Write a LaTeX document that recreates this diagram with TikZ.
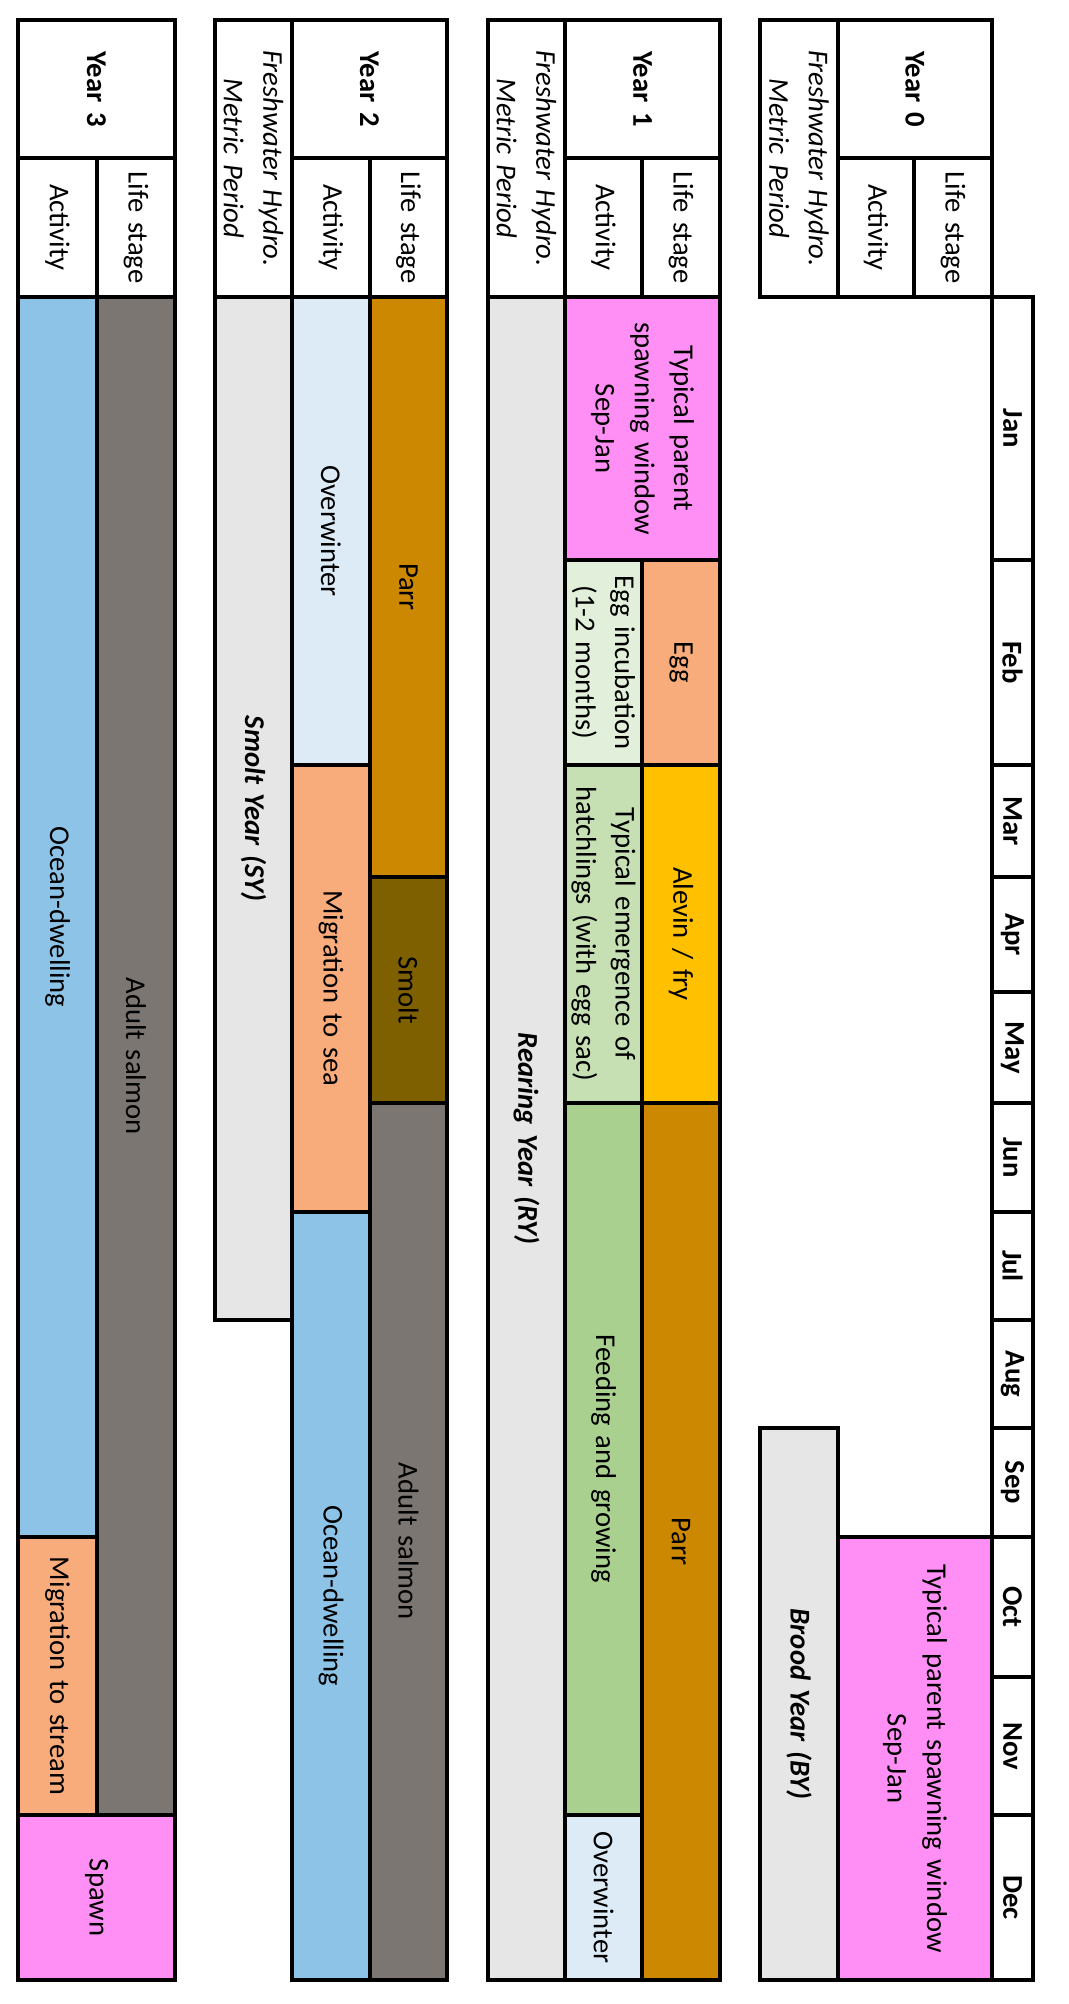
\documentclass[tikz,border=0pt]{standalone}
\usepackage{fontspec}
\setmainfont{Carlito}
\definecolor{pk}{HTML}{FF8FF5}
\definecolor{gr}{HTML}{E7E6E6}
\definecolor{org}{HTML}{F9AC7B}
\definecolor{yel}{HTML}{FFC000}
\definecolor{parr}{HTML}{CC8800}
\definecolor{smolt}{HTML}{7F6000}
\definecolor{adult}{HTML}{7B7671}
\definecolor{ocean}{HTML}{8DC3E6}
\definecolor{winter}{HTML}{DDEBF7}
\definecolor{incub}{HTML}{E2EFDA}
\definecolor{emerg}{HTML}{C6E0B4}
\definecolor{feed}{HTML}{A9D08E}
\tikzset{
  cellbox/.style={draw=black, line width=2.4pt},
  lbl/.style={rotate=-90, align=center, inner sep=0pt, text=black}
}
% name, x1, y1, x2, y2, fill, font switch, text
\newcommand\bx[8]{%
  \path[cellbox, fill=#6] (#2,#3) rectangle (#4,#5);
  \pgfmathsetmacro\tw{abs(#5-#3)*0.75-6}%
  \node[lbl, text width=\tw pt, font=\fontsize{21.5}{29.5}\selectfont#7] (#1) at ({(#2+#4)/2},{(#3+#5)/2}) {#8};}
\begin{document}
\begin{tikzpicture}[x=0.75pt,y=-0.75pt]
\useasboundingbox (0,0) rectangle (1068,2004);
\fill[white] (0,0) rectangle (1068,2004);
% ---- Year 0
\bx{yzfw}{760}{20}{838}{297}{white}{\itshape}{Freshwater Hydro.\\Metric Period}
\bx{yz}{838}{20}{992}{158}{white}{\bfseries}{Year 0}
\bx{yzact}{838}{158}{914}{297}{white}{}{Activity}
\bx{yzls}{914}{158}{992}{297}{white}{}{Life stage}
\bx{yzby}{760}{1428}{838}{1980}{gr}{\bfseries\itshape}{Brood Year (BY)}
\bx{yzsp}{838}{1537}{992}{1980}{pk}{}{Typical parent spawning window\\Sep-Jan}
% ---- Months
\bx{mjan}{992}{297}{1033}{560}{white}{\bfseries}{Jan}
\bx{mfeb}{992}{560}{1033}{765}{white}{\bfseries}{Feb}
\bx{mmar}{992}{765}{1033}{877}{white}{\bfseries}{Mar}
\bx{mapr}{992}{877}{1033}{992}{white}{\bfseries}{Apr}
\bx{mmay}{992}{992}{1033}{1103}{white}{\bfseries}{May}
\bx{mjun}{992}{1103}{1033}{1212}{white}{\bfseries}{Jun}
\bx{mjul}{992}{1212}{1033}{1320}{white}{\bfseries}{Jul}
\bx{maug}{992}{1320}{1033}{1428}{white}{\bfseries}{Aug}
\bx{msep}{992}{1428}{1033}{1537}{white}{\bfseries}{Sep}
\bx{moct}{992}{1537}{1033}{1677}{white}{\bfseries}{Oct}
\bx{mnov}{992}{1677}{1033}{1815}{white}{\bfseries}{Nov}
\bx{mdec}{992}{1815}{1033}{1980}{white}{\bfseries}{Dec}
% ---- Year 1
\bx{yafw}{488}{20}{565}{297}{white}{\itshape}{Freshwater Hydro.\\Metric Period}
\bx{ya}{565}{20}{720}{158}{white}{\bfseries}{Year 1}
\bx{yaact}{565}{158}{642}{297}{white}{}{Activity}
\bx{yals}{642}{158}{720}{297}{white}{}{Life stage}
\bx{yary}{488}{297}{565}{1980}{gr}{\bfseries\itshape}{Rearing Year (RY)}
\bx{yasp}{565}{297}{720}{560}{pk}{}{Typical parent\\spawning window\\Sep-Jan}
\bx{yaegg}{642}{560}{720}{765}{org}{}{Egg}
\bx{yainc}{565}{560}{642}{765}{incub}{}{Egg incubation\\(1-2 months)}
\bx{yaalv}{642}{765}{720}{1103}{yel}{}{Alevin / fry}
\bx{yaem}{565}{765}{642}{1103}{emerg}{}{Typical emergence of\\hatchlings (with egg sac)}
\bx{yaparr}{642}{1103}{720}{1980}{parr}{}{Parr}
\bx{yafeed}{565}{1103}{642}{1815}{feed}{}{Feeding and growing}
\bx{yaow}{565}{1815}{642}{1980}{winter}{}{Overwinter}
% ---- Year 2
\bx{ybfw}{215}{20}{292}{297}{white}{\itshape}{Freshwater Hydro.\\Metric Period}
\bx{yb}{292}{20}{447}{158}{white}{\bfseries}{Year 2}
\bx{ybact}{292}{158}{370}{297}{white}{}{Activity}
\bx{ybls}{370}{158}{447}{297}{white}{}{Life stage}
\bx{ybsy}{215}{297}{292}{1320}{gr}{\bfseries\itshape}{Smolt Year (SY)}
\bx{ybparr}{370}{297}{447}{877}{parr}{}{Parr}
\bx{ybsmolt}{370}{877}{447}{1103}{smolt}{}{Smolt}
\bx{ybadult}{370}{1103}{447}{1980}{adult}{}{Adult salmon}
\bx{ybow}{292}{297}{370}{765}{winter}{}{Overwinter}
\bx{ybmig}{292}{765}{370}{1212}{org}{}{Migration to sea}
\bx{yboc}{292}{1212}{370}{1980}{ocean}{}{Ocean-dwelling}
% ---- Year 3
\bx{yc}{18}{20}{175}{158}{white}{\bfseries}{Year 3}
\bx{ycact}{18}{158}{97}{297}{white}{}{Activity}
\bx{ycls}{97}{158}{175}{297}{white}{}{Life stage}
\bx{ycadult}{97}{297}{175}{1815}{adult}{}{Adult salmon}
\bx{ycoc}{18}{297}{97}{1537}{ocean}{}{Ocean-dwelling}
\bx{ycmig}{18}{1537}{97}{1815}{org}{}{Migration to stream}
\bx{ycspawn}{18}{1815}{175}{1980}{pk}{}{Spawn}
\end{tikzpicture}
\end{document}
